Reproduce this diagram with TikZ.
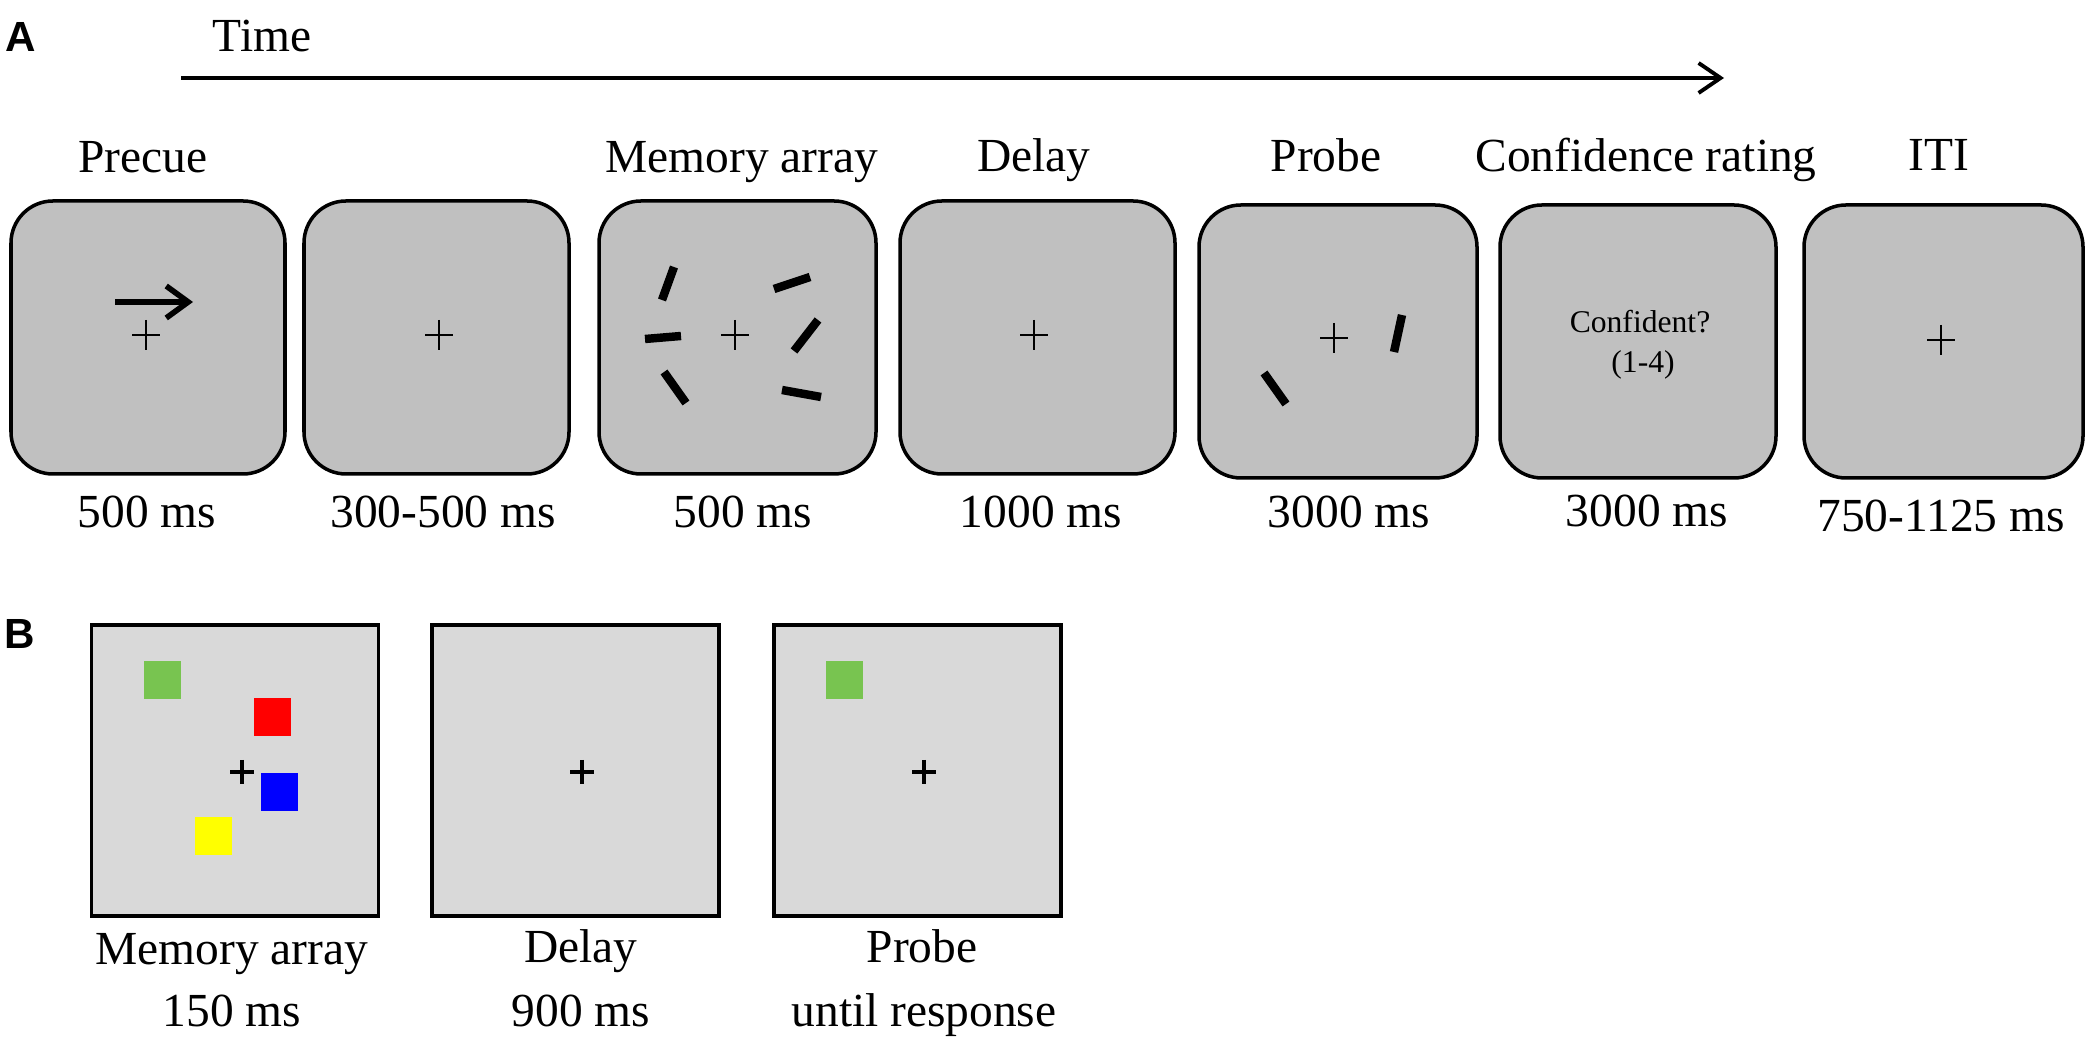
\documentclass[tikz,border=0pt]{standalone}
\usepackage{fontspec}
\setmainfont{Liberation Serif}
\newfontfamily\panelfont{Liberation Sans}
\usetikzlibrary{arrows.meta}
\definecolor{scrA}{HTML}{C0C0C0}
\definecolor{scrB}{HTML}{D9D9D9}
\definecolor{sqgreen}{HTML}{78C450}
\definecolor{sqred}{HTML}{FF0000}
\definecolor{sqblue}{HTML}{0000FF}
\definecolor{sqyellow}{HTML}{FFFF00}
\begin{document}
\begin{tikzpicture}[x=0.1mm,y=-0.1mm,
  screenA/.style={draw=black,line width=1pt,fill=scrA,rounded corners=4.2mm,
    minimum height=27.3mm,inner sep=0pt,outer sep=0pt},
  screenB/.style={draw=black,line width=1.1pt,fill=scrB,
    minimum width=28.7mm,minimum height=29.1mm,inner sep=0pt,outer sep=0pt},
  lab/.style={font=\fontsize{13.5}{16}\selectfont,anchor=base,inner sep=0pt},
  small/.style={font=\fontsize{9}{11}\selectfont,anchor=base,inner sep=0pt},
  panel/.style={font=\panelfont\bfseries\fontsize{12}{14}\selectfont,anchor=base west,inner sep=0pt},
  crossA/.style={line width=0.65pt},
  crossB/.style={line width=1.1pt},
  barline/.style={line width=2.4pt,line cap=butt},
  colsq/.style={inner sep=0pt,outer sep=0pt,minimum width=3.7mm,minimum height=3.8mm},
]
\useasboundingbox (0,0) rectangle (2100,1054);

% ---------- Panel A ----------
\node[panel] (pA) at (5,52) {A};
\node[lab] (time) at (262,52) {Time};
\coordinate (t0) at (181,78);
\coordinate (t1) at (1724,78);
\draw[line width=1.1pt,-{Straight Barb[length=2.2mm,width=3mm,line width=1.1pt]}] (t0) -- (t1);

% screens
\node[screenA,minimum width=27.4mm] (s1) at (148,337.5) {};
\node[screenA,minimum width=26.5mm] (s2) at (436.5,337.5) {};
\node[screenA,minimum width=27.7mm] (s3) at (737.5,337.5) {};
\node[screenA,minimum width=27.5mm] (s4) at (1037.5,337.5) {};
\node[screenA,minimum width=27.8mm] (s5) at (1338,341.5) {};
\node[screenA,minimum width=27.6mm] (s6) at (1638,341.5) {};
\node[screenA,minimum width=27.9mm] (s7) at (1943.5,341.5) {};

% top labels
\node[lab] (l1) at (143,173) {Precue};
\node[lab] (l3) at (742,173) {Memory array};
\node[lab] (l4) at (1034,172) {Delay};
\node[lab] (l5) at (1326,172) {Probe};
\node[lab] (l6) at (1646,172) {Confidence rating};
\node[lab] (l7) at (1939,171) {ITI};

% bottom labels
\node[lab] (d1) at (147,528) {500 ms};
\node[lab] (d2) at (443,528) {300-500 ms};
\node[lab] (d3) at (743,528) {500 ms};
\node[lab] (d4) at (1041,528) {1000 ms};
\node[lab] (d5) at (1349,528) {3000 ms};
\node[lab] (d6) at (1647,527) {3000 ms};
\node[lab] (d7) at (1941,532) {750-1125 ms};

% fixation crosses (panel A)
\foreach \cx/\cy in {146/335, 439/335, 735/335, 1034/335, 1334/338, 1941/340}{
  \draw[crossA] (\cx-14,\cy) -- (\cx+14,\cy) (\cx,\cy-15) -- (\cx,\cy+15);
}

% precue arrow
\coordinate (p0) at (115,302);
\coordinate (p1) at (193,302);
\draw[line width=1.6pt,-{Straight Barb[length=2.2mm,width=3.2mm,line width=1.6pt]}] (p0) -- (p1);

% memory array bars
\draw[barline] (662,300) -- (674,267);
\draw[barline] (774,289) -- (810,277);
\draw[barline] (645,339) -- (681,336);
\draw[barline] (794,351) -- (818,320);
\draw[barline] (664,372) -- (686,403);
\draw[barline] (782,390) -- (821,397);

% probe bars
\draw[barline] (1394,352) -- (1402,315);
\draw[barline] (1264,373) -- (1286,404);

% confidence text
\node[small] (conf) at (1640,333) {Confident?};
\node[small] (rng) at (1643,373) {(1-4)};

% ---------- Panel B ----------
\node[panel] (pB) at (4,649) {B};
\node[screenB] (b1) at (235,770.5) {};
\node[screenB] (b2) at (575.5,770.5) {};
\node[screenB] (b3) at (917.5,770.5) {};

\node[colsq,fill=sqgreen] (g1) at (162.5,680.5) {};
\node[colsq,fill=sqred] (r1) at (272,717) {};
\node[colsq,fill=sqblue] (bl1) at (279.5,792) {};
\node[colsq,fill=sqyellow] (y1) at (213.5,836.5) {};
\node[colsq,fill=sqgreen] (g3) at (844.5,680.5) {};

\foreach \cx/\cy in {242/772, 582/772, 924/772}{
  \draw[crossB] (\cx-12,\cy) -- (\cx+12,\cy) (\cx,\cy-12) -- (\cx,\cy+12);
}

\node[lab] (m1) at (232,965) {Memory array};
\node[lab] (m1t) at (232,1027) {150 ms};
\node[lab] (m2) at (581,963) {Delay};
\node[lab] (m2t) at (581,1027) {900 ms};
\node[lab] (m3) at (922,963) {Probe};
\node[lab] (m3t) at (924,1027) {until response};
\end{tikzpicture}
\end{document}
